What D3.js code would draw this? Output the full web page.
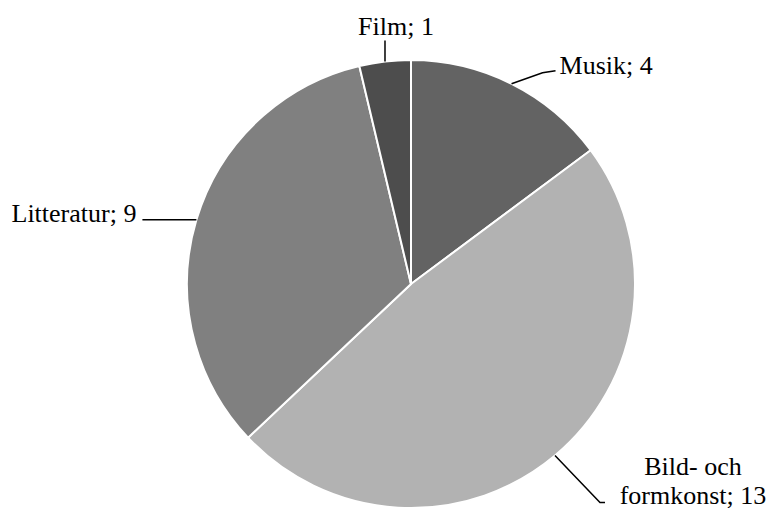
<!DOCTYPE html>
<html><head><meta charset="utf-8">
<script src="https://cdn.jsdelivr.net/npm/d3@7"></script>
<style>html,body{margin:0;padding:0;background:#fff;}svg{display:block;}
text{font-family:"Liberation Serif","Times New Roman",Times,serif;}</style>
</head><body>
<svg id="chart" width="768" height="509"></svg>
<script>
const categories = ["Musik", "Bild- och formkonst", "Litteratur", "Film"];
const values = [4, 13, 9, 1];
const colors = ["#636363", "#b2b2b2", "#808080", "#4d4d4d"];

const svg = d3.select("#chart");
const cx = 411, cy = 284, r = 224;
const g = svg.append("g").attr("transform", `translate(${cx},${cy})`);
const data = categories.map((c, i) => ({name: c, value: values[i], color: colors[i]}));
const pie = d3.pie().value(d => d.value).sort(null);
const arcs = pie(data);
const arc = d3.arc().innerRadius(0).outerRadius(r);

g.selectAll("path.slice").data(arcs).join("path")
  .attr("class", "slice")
  .attr("d", arc)
  .attr("fill", d => d.data.color)
  .attr("stroke", "#fff")
  .attr("stroke-width", 2)
  .attr("stroke-linejoin", "round");

const layout = {
  "Musik": {pts: [[31, -11], [44, -13]], tx: 48, ty: -10, anchor: "start", lines: null},
  "Bild- och formkonst": {pts: [[45, 47], [50, 47]], tx: 138, ty: 19, anchor: "middle", lines: ["Bild- och", "formkonst; 13"]},
  "Litteratur": {pts: [[-54, 0]], tx: -60, ty: 2, anchor: "end", lines: null},
  "Film": {pts: [[0, -21]], tx: 11, ty: -27, anchor: "middle", lines: null}
};

arcs.forEach(a => {
  const mid = (a.startAngle + a.endAngle) / 2;
  const sx = cx + r * Math.sin(mid), sy = cy - r * Math.cos(mid);
  const L = layout[a.data.name];
  const pts = [[sx, sy]].concat(L.pts.map(p => [sx + p[0], sy + p[1]]));
  svg.append("path")
    .attr("d", d3.line()(pts))
    .attr("fill", "none")
    .attr("stroke", "#000")
    .attr("stroke-width", 1.5);
  const lines = L.lines || [`${a.data.name}; ${a.data.value}`];
  const t = svg.append("text")
    .attr("x", sx + L.tx).attr("y", sy + L.ty)
    .attr("text-anchor", L.anchor)
    .attr("font-size", 26)
    .attr("fill", "#000");
  lines.forEach((ln, i) => {
    t.append("tspan").attr("x", sx + L.tx).attr("dy", i === 0 ? 0 : 29).text(ln);
  });
});
</script>
</body></html>
